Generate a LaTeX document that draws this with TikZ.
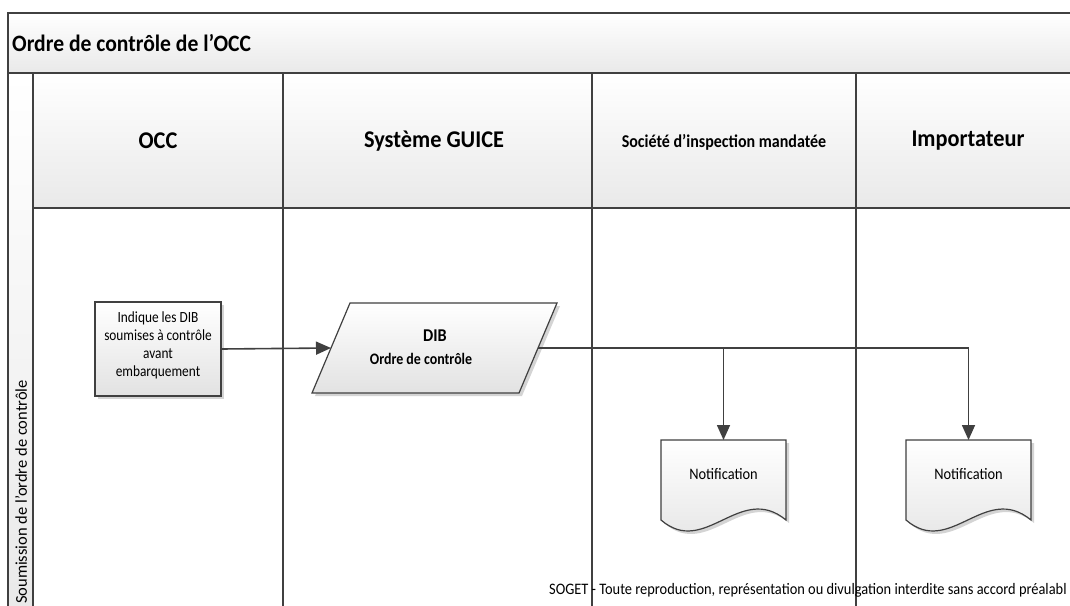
\documentclass[tikz,border=0pt]{standalone}
\usepackage{fontspec}
\setmainfont{Carlito}
\usetikzlibrary{arrows.meta,calc}
\definecolor{edge}{HTML}{404040}
\definecolor{bandlo}{HTML}{E9E9E9}
\definecolor{shapelo}{HTML}{E2E2E2}
\definecolor{shade}{HTML}{D4D4D4}
\begin{document}
\begin{tikzpicture}[x=1pt,y=-1pt,
  band/.style={draw=edge, line width=1.5pt, top color=white, bottom color=bandlo},
  laneline/.style={draw=edge, line width=1.5pt},
  flowshape/.style={draw=edge, line width=1.2pt, top color=white, bottom color=shapelo},
  shadowfill/.style={fill=shade},
  flow/.style={draw=edge, line width=1.6pt, -{Triangle[length=15pt,width=13pt]}},
  titletext/.style={font=\fontsize{23.5}{27}\selectfont\bfseries, inner sep=0pt, xscale=0.92},
  headtext/.style={font=\fontsize{24}{27}\selectfont\bfseries, inner sep=0pt, xscale=0.93},
  smallhead/.style={font=\fontsize{18}{21}\selectfont\bfseries, inner sep=0pt, xscale=0.89},
  bodytext/.style={font=\fontsize{15.5}{18}\selectfont, inner sep=0pt, align=center, xscale=0.86},
  pics/notif/.style={code={
    \fill[shadowfill] (3,3) -- (128,3) -- (128,83) .. controls (82,45) and (47,121) .. (3,83) -- cycle;
    \draw[flowshape] (0,0) -- (125,0) -- (125,80) .. controls (79,42) and (44,118) .. (0,80) -- cycle;
  }}
]
\useasboundingbox (0,0) rectangle (1070,605);
\clip (0,0) rectangle (1070,605);
\fill[white] (0,0) rectangle (1070,605);

% pool title band and left phase strip
\draw[band] (8,13) rectangle (1090,73);
\node[titletext, anchor=west] (pooltitle) at (12,43) {Ordre de contrôle de l’OCC};
\draw[band] (8,73) rectangle (33,620);

% lane headers
\draw[band] (33,73) rectangle (283,208);
\draw[band] (283,73) rectangle (592,208);
\draw[band] (592,73) rectangle (856,208);
\draw[band] (856,73) rectangle (1090,208);
\node[headtext] (hocc) at (158,141) {OCC};
\node[headtext] (hguice) at (434,141) {Système GUICE};
\node[smallhead] (hsoc) at (724,142) {Société d’inspection mandatée};
\node[headtext] (himp) at (968,141) {Importateur};

% lane bodies
\draw[laneline] (33,208) -- (1090,208);
\foreach \lx in {33,283,592,856}
  \draw[laneline] (\lx,208) -- (\lx,620);

% phase label
\node[font=\fontsize{16.5}{19}\selectfont, rotate=90, inner sep=0pt] (phase) at (21,492) {Soumission de l’ordre de contrôle};

% process step
\fill[shadowfill] (98,305) rectangle (224,399);
\node[flowshape, minimum width=126pt, minimum height=94pt, inner sep=0pt] (occstep) at (158,349) {};
\node[bodytext] (occtxt) at (158,345) {Indique les DIB\\soumises à contrôle\\avant\\embarquement};

% data object
\fill[shadowfill] (353,306) -- (560,306) -- (522,396) -- (315,396) -- cycle;
\draw[flowshape] (350,303) -- (557,303) -- (519,393) -- (312,393) -- cycle;
\coordinate (dibW) at (331,348);
\coordinate (dibE) at (538,348);
\node[font=\fontsize{18}{21}\selectfont\bfseries, inner sep=0pt, xscale=0.9] (dib) at (435,336) {DIB};
\node[font=\fontsize{16}{19}\selectfont\bfseries, inner sep=0pt, xscale=0.87] (dibtxt) at (421,359) {Ordre de contrôle};

% notifications
\pic at (661,440) {notif};
\pic at (906,440) {notif};
\node[font=\fontsize{16}{19}\selectfont, inner sep=0pt, xscale=0.9] (notifA) at (723.5,474) {Notification};
\node[font=\fontsize{16}{19}\selectfont, inner sep=0pt, xscale=0.9] (notifB) at (968.5,474) {Notification};
\coordinate (notifAtop) at (723.5,440);
\coordinate (notifBtop) at (968.5,440);

% connectors
\draw[flow] (occstep.east) -- (dibW);
\draw[flow] (dibE) -| (notifAtop);
\draw[flow] (dibE) -| (notifBtop);

% footer
\node[font=\fontsize{16}{19}\selectfont, inner sep=0pt, anchor=base west, xscale=0.9] (footer) at (549,594) {SOGET - Toute reproduction, représentation ou divulgation interdite sans accord préalabl};
\end{tikzpicture}
\end{document}
